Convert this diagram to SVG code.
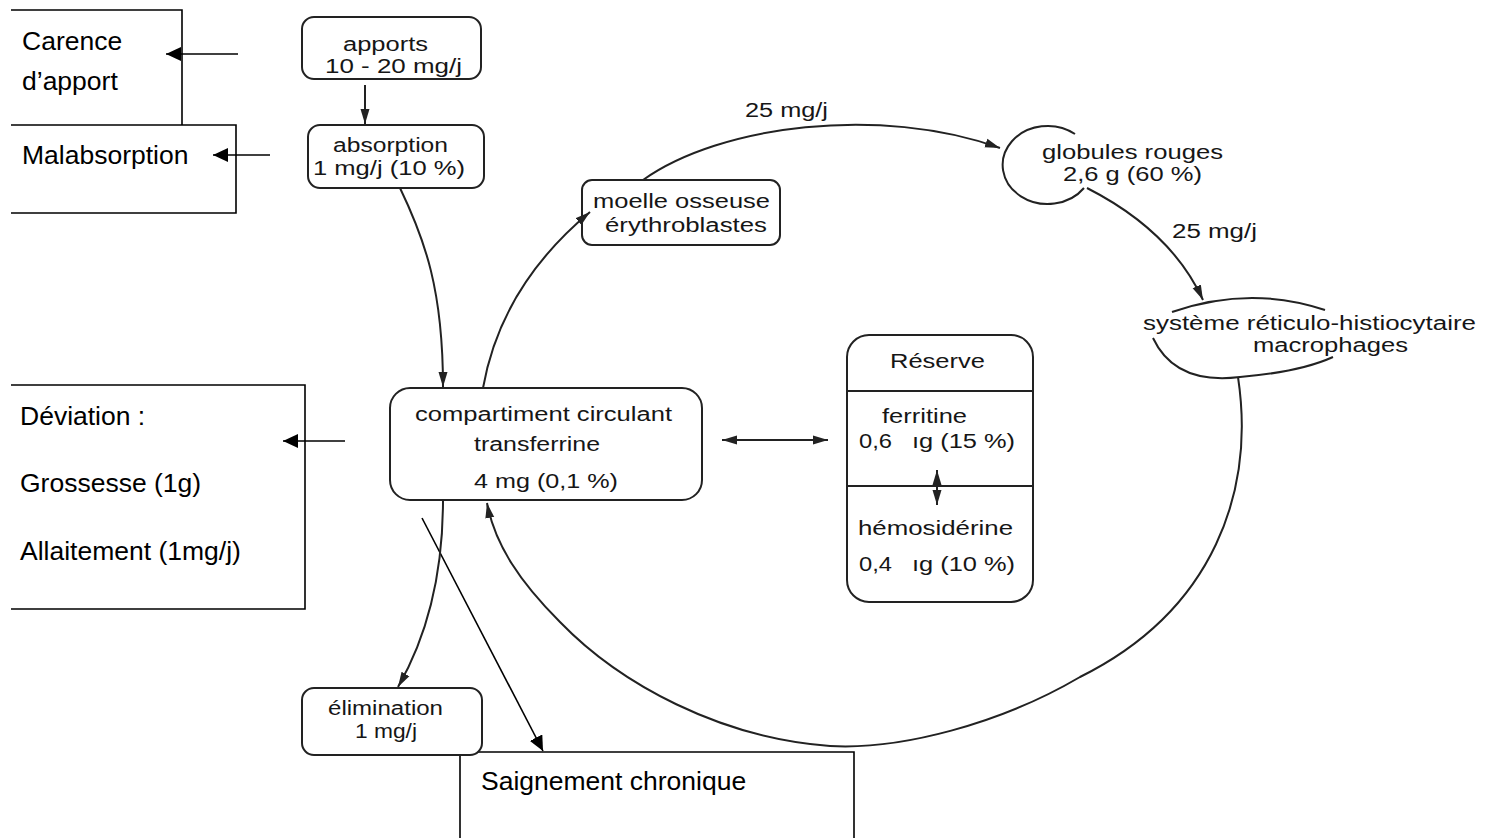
<svg xmlns="http://www.w3.org/2000/svg" width="1493" height="838" viewBox="0 0 1493 838">
<defs>
<style>
.w{fill:none;stroke:#000;stroke-width:1.6}
.wt{font-family:"Liberation Sans",Arial,sans-serif;font-size:26.5px;fill:#000}
.box{fill:#fff;stroke:#222;stroke-width:2}
.ln{fill:none;stroke:#222;stroke-width:2}
.st{font-family:"Liberation Sans",Arial,sans-serif;font-size:20px;fill:#161616}
</style>
<marker id="ah" markerUnits="userSpaceOnUse" markerWidth="16" markerHeight="10" refX="15" refY="5" orient="auto">
<path d="M0,0.5 L15,5 L0,9.5 Z" fill="#222"/>
</marker>
<marker id="ahs" markerUnits="userSpaceOnUse" markerWidth="16" markerHeight="10" refX="1" refY="5" orient="auto">
<path d="M16,0.5 L1,5 L16,9.5 Z" fill="#222"/>
</marker>
<marker id="wa" markerUnits="userSpaceOnUse" markerWidth="16" markerHeight="14" refX="15" refY="7" orient="auto">
<path d="M0,0 L15,7 L0,14 Z" fill="#000"/>
</marker>
</defs>
<rect width="1493" height="838" fill="#fff"/>

<g id="carence">
<path class="w" d="M11,10 H182 V125"/>
<text class="wt" x="22" y="50">Carence</text>
<text class="wt" x="22" y="90">d’apport</text>
</g>
<g id="malabsorption">
<path class="w" d="M11,125 H236 V213 H11"/>
<text class="wt" x="22" y="164">Malabsorption</text>
</g>
<g id="deviation">
<path class="w" d="M11,385 H305 V609 H11"/>
<text class="wt" x="20" y="425">Déviation :</text>
<text class="wt" x="20" y="492">Grossesse (1g)</text>
<text class="wt" x="20" y="560">Allaitement (1mg/j)</text>
</g>
<g id="saignement">
<path class="w" d="M460,838 V752 H854 V838"/>
<text class="wt" x="481" y="790">Saignement chronique</text>
</g>

<g id="apports">
<rect class="box" x="302" y="17" width="179" height="62" rx="12"/>
<text class="st" x="343" y="51" textLength="85" lengthAdjust="spacingAndGlyphs" font-size="17">apports</text>
<text class="st" x="325" y="73" textLength="137" lengthAdjust="spacingAndGlyphs" font-size="17">10 - 20 mg/j</text>
</g>
<g id="absorption">
<rect class="box" x="308" y="125" width="176" height="63" rx="12"/>
<text class="st" x="333" y="152" textLength="115" lengthAdjust="spacingAndGlyphs" font-size="18">absorption</text>
<text class="st" x="313" y="175" textLength="152" lengthAdjust="spacingAndGlyphs" font-size="18">1 mg/j (10 %)</text>
</g>
<g id="compartiment">
<rect class="box" x="390" y="388" width="312" height="112" rx="20"/>
<text class="st" x="415" y="421" textLength="257" lengthAdjust="spacingAndGlyphs" font-size="21">compartiment circulant</text>
<text class="st" x="474" y="451" textLength="126" lengthAdjust="spacingAndGlyphs" font-size="21">transferrine</text>
<text class="st" x="474" y="488" textLength="144" lengthAdjust="spacingAndGlyphs" font-size="21">4 mg (0,1 %)</text>
</g>
<g id="moelle">
<rect class="box" x="582" y="180" width="198" height="65" rx="10"/>
<text class="st" x="593" y="208" textLength="177" lengthAdjust="spacingAndGlyphs" font-size="19">moelle osseuse</text>
<text class="st" x="605" y="232" textLength="162" lengthAdjust="spacingAndGlyphs" font-size="19">érythroblastes</text>
</g>
<g id="globules">
<path class="ln" d="M1075,134 A45,39 0 1,0 1084,188"/>
<text class="st" x="1042" y="159" textLength="181" lengthAdjust="spacingAndGlyphs" font-size="19">globules rouges</text>
<text class="st" x="1063" y="181" textLength="139" lengthAdjust="spacingAndGlyphs" font-size="19">2,6 g (60 %)</text>
</g>
<g id="systeme">
<path class="ln" d="M1172,312 Q1250,285 1325,310"/>
<path class="ln" d="M1153,338 Q1175,385 1240,377 Q1300,372 1333,357"/>
<text class="st" x="1143" y="330" textLength="333" lengthAdjust="spacingAndGlyphs" font-size="18">système réticulo-histiocytaire</text>
<text class="st" x="1253" y="352" textLength="155" lengthAdjust="spacingAndGlyphs" font-size="18">macrophages</text>
</g>
<g id="reserve">
<rect class="box" x="847" y="335" width="186" height="267" rx="22"/>
<line class="ln" x1="847" y1="391" x2="1033" y2="391"/>
<line class="ln" x1="847" y1="486" x2="1033" y2="486"/>
<text class="st" x="890" y="368" textLength="95" lengthAdjust="spacingAndGlyphs" font-size="19">Réserve</text>
<text class="st" x="882" y="423" textLength="85" lengthAdjust="spacingAndGlyphs" font-size="19">ferritine</text>
<text class="st" x="859" y="448" textLength="33" lengthAdjust="spacingAndGlyphs" font-size="19">0,6</text>
<text class="st" x="912" y="448" textLength="103" lengthAdjust="spacingAndGlyphs" font-size="19">ıg (15 %)</text>
<text class="st" x="858" y="535" textLength="155" lengthAdjust="spacingAndGlyphs" font-size="19">hémosidérine</text>
<text class="st" x="859" y="571" textLength="33" lengthAdjust="spacingAndGlyphs" font-size="19">0,4</text>
<text class="st" x="912" y="571" textLength="103" lengthAdjust="spacingAndGlyphs" font-size="19">ıg (10 %)</text>
</g>
<g id="elimination">
<rect class="box" x="302" y="688" width="180" height="67" rx="12"/>
<text class="st" x="328" y="715" textLength="115" lengthAdjust="spacingAndGlyphs" font-size="19">élimination</text>
<text class="st" x="355" y="738" textLength="62" lengthAdjust="spacingAndGlyphs" font-size="19">1 mg/j</text>
</g>

<g id="connectors">
<line class="w" x1="238" y1="54" x2="166" y2="54" marker-end="url(#wa)"/>
<line class="w" x1="270" y1="155" x2="213" y2="155" marker-end="url(#wa)"/>
<line class="w" x1="345" y1="441" x2="283" y2="441" marker-end="url(#wa)"/>
<line class="w" x1="422" y1="518" x2="543" y2="751" marker-end="url(#wa)"/>

<line class="ln" x1="365" y1="85" x2="365" y2="124" marker-end="url(#ah)"/>
<path class="ln" d="M400,188 C425,240 443,290 443,387" marker-end="url(#ah)"/>
<path class="ln" d="M483,388 C495,320 530,262 590,212" marker-end="url(#ah)"/>
<path class="ln" d="M643,180 C720,125 880,105 1000,148" marker-end="url(#ah)"/>
<text class="st" x="745" y="117" textLength="83" lengthAdjust="spacingAndGlyphs" font-size="20">25 mg/j</text>
<path class="ln" d="M1087,188 C1140,215 1180,250 1203,300" marker-end="url(#ah)"/>
<text class="st" x="1172" y="238" textLength="85" lengthAdjust="spacingAndGlyphs" font-size="20">25 mg/j</text>
<path class="ln" d="M1238,377 C1255,490 1215,610 1080,677 C1000,724 900,750 830,746 C720,738 620,684 560,622 C520,582 495,545 487,503" marker-end="url(#ah)"/>
<path class="ln" d="M443,500 C443,580 425,640 398,687" marker-end="url(#ah)"/>
<line class="ln" x1="722" y1="440" x2="828" y2="440" marker-start="url(#ahs)" marker-end="url(#ah)"/>
<line class="ln" x1="937" y1="470" x2="937" y2="505" marker-start="url(#ahs)" marker-end="url(#ah)"/>
</g>
</svg>
